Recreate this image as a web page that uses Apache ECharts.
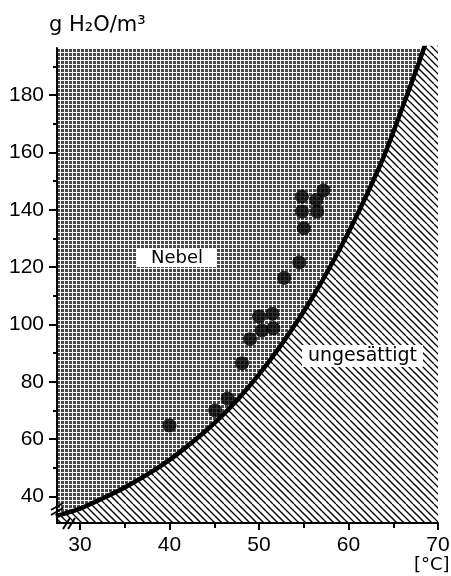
<!DOCTYPE html>
<html>
<head>
<meta charset="utf-8">
<script src="https://cdn.jsdelivr.net/npm/echarts@6/dist/echarts.min.js"></script>
<style>
html,body{margin:0;padding:0;background:#fff;}
#c{width:451px;height:576px;}
</style>
</head>
<body>
<div id="c"></div>
<script>
// ---- data ----
const xMin = 27.43, xMax = 70;
const yMin = 30.8, yMax = 196.4;
const xMajorTicks = [30, 40, 50, 60, 70];
const xMinorTicks = [35, 45, 55, 65];
const yMajorTicks = [40, 60, 80, 100, 120, 140, 160, 180];
const yMinorTicks = [50, 70, 90, 110, 130, 150, 170, 190];
// saturation curve (temperature °C, g H2O/m3)
const curveT = [27.3, 30, 32, 35, 38, 40, 42, 44, 46, 48, 50, 52, 54, 56, 58, 60, 62, 64, 66, 68, 70];
const curveW = [33.2, 35.8, 38.6, 43.2, 48.6, 52.8, 57.6, 62.8, 68.6, 75.2, 82.6, 90.8, 99.8, 109.6, 120.4, 132.2, 145.0, 159.0, 175.5, 192.5, 211];
// measured points
const dotT = [40.0, 45.1, 46.5, 48.1, 49.0, 50.0, 51.5, 50.3, 51.6, 52.8, 54.5, 55.0, 54.8, 56.5, 54.8, 56.4, 57.2];
const dotW = [64.8, 70.0, 74.2, 86.5, 94.9, 102.8, 103.7, 97.9, 98.7, 116.2, 121.6, 133.6, 139.4, 139.4, 144.6, 143.4, 146.7];

// ---- patterns ----
function crossPattern() {
  const c = document.createElement('canvas');
  c.width = 4; c.height = 4;
  const g = c.getContext('2d');
  g.fillStyle = '#474747'; g.fillRect(0, 0, 4, 4);
  g.fillStyle = '#ffffff';
  g.fillRect(0, 0, 4, 1);
  g.fillRect(0, 0, 1, 4);
  return c;
}
function hatchPattern() {
  const s = 28, step = 7;
  const c = document.createElement('canvas');
  c.width = s; c.height = s;
  const g = c.getContext('2d');
  g.fillStyle = '#ffffff'; g.fillRect(0, 0, s, s);
  g.strokeStyle = '#000'; g.lineWidth = 1.3;
  for (let k = -s; k <= 2 * s; k += step) {
    g.beginPath(); g.moveTo(k, 0); g.lineTo(k + s, s); g.stroke();
  }
  return c;
}

const chart = echarts.init(document.getElementById('c'), null, {renderer: 'canvas'});
const lab = {color: '#000', fontFamily: 'Liberation Sans, Arial, sans-serif', fontSize: 21};

const option = {
  backgroundColor: '#fff',
  animation: false,
  grid: {left: 57, right: 13, top: 48, bottom: 53, containLabel: false, outerBoundsMode: 'none'},
  xAxis: [{
    type: 'value', min: xMin, max: xMax, z: 10,
    axisLine: {show: true, lineStyle: {color: '#000', width: 2}},
    axisTick: {show: true, customValues: xMajorTicks, length: 7, lineStyle: {color: '#000', width: 2}},
    axisLabel: Object.assign({show: true, customValues: xMajorTicks, margin: 12}, lab),
    splitLine: {show: false}
  }, {
    type: 'value', min: xMin, max: xMax, position: 'bottom', z: 10,
    axisLine: {show: false},
    axisTick: {show: true, customValues: xMinorTicks, length: 5, lineStyle: {color: '#000', width: 2}},
    axisLabel: {show: false},
    splitLine: {show: false}
  }],
  yAxis: [{
    type: 'value', min: yMin, max: yMax, z: 10,
    axisLine: {show: true, lineStyle: {color: '#000', width: 2}},
    axisTick: {show: true, customValues: yMajorTicks, length: 8, lineStyle: {color: '#000', width: 2}},
    axisLabel: Object.assign({show: true, customValues: yMajorTicks, margin: 13}, lab),
    splitLine: {show: false}
  }, {
    type: 'value', min: yMin, max: yMax, position: 'left', z: 10,
    axisLine: {show: false},
    axisTick: {show: true, customValues: yMinorTicks, length: 4, lineStyle: {color: '#000', width: 2}},
    axisLabel: {show: false},
    splitLine: {show: false}
  }],
  series: [{
    name: 'Nebel', type: 'line', z: 1,
    data: [[xMin, yMax], [xMax, yMax]],
    showSymbol: false, symbol: 'none',
    lineStyle: {width: 0},
    areaStyle: {origin: 'start', opacity: 1, color: {image: crossPattern(), repeat: 'repeat'}}
  }, {
    name: 'Sättigung', type: 'line', z: 2, clip: true,
    data: curveT.map((t, i) => [t, curveW[i]]),
    smooth: 0.3, showSymbol: false, symbol: 'none',
    lineStyle: {color: '#000', width: 4.5},
    areaStyle: {origin: 'start', opacity: 1, color: {image: hatchPattern(), repeat: 'repeat'}}
  }, {
    name: 'Messwerte', type: 'scatter', z: 3,
    data: dotT.map((t, i) => [t, dotW[i]]),
    symbol: 'circle', symbolSize: 14,
    itemStyle: {color: '#000'}
  }],
  graphic: [
    {type: 'text', left: 49, top: 15, z: 20,
     style: {text: 'g H₂O/m³', fill: '#000', font: '21px "DejaVu Sans", sans-serif'}},
    {type: 'text', left: 414, top: 556, z: 20,
     style: {text: '[°C]', fill: '#000', font: '18px "DejaVu Sans", sans-serif'}},
    {type: 'rect', z: 20, shape: {x: 137, y: 248, width: 80, height: 19}, style: {fill: '#fff'}},
    {type: 'text', z: 21, x: 177, y: 258,
     style: {text: 'Nebel', fill: '#000', font: '18px "DejaVu Sans", sans-serif', align: 'center', verticalAlign: 'middle'}},
    {type: 'rect', z: 20, shape: {x: 302, y: 345, width: 121, height: 22}, style: {fill: '#fff'}},
    {type: 'text', z: 21, x: 362.5, y: 356,
     style: {text: 'ungesättigt', fill: '#000', font: '19px "DejaVu Sans", sans-serif', align: 'center', verticalAlign: 'middle'}},
    // axis break marks
    {type: 'line', z: 30, shape: {x1: 51, y1: 510, x2: 63, y2: 503}, style: {stroke: '#000', lineWidth: 2}},
    {type: 'line', z: 30, shape: {x1: 51, y1: 515, x2: 63, y2: 508}, style: {stroke: '#000', lineWidth: 2}},
    {type: 'line', z: 30, shape: {x1: 63, y1: 529, x2: 70, y2: 518}, style: {stroke: '#000', lineWidth: 2}},
    {type: 'line', z: 30, shape: {x1: 68, y1: 529, x2: 75, y2: 518}, style: {stroke: '#000', lineWidth: 2}}
  ]
};
chart.setOption(option);
</script>
</body>
</html>
